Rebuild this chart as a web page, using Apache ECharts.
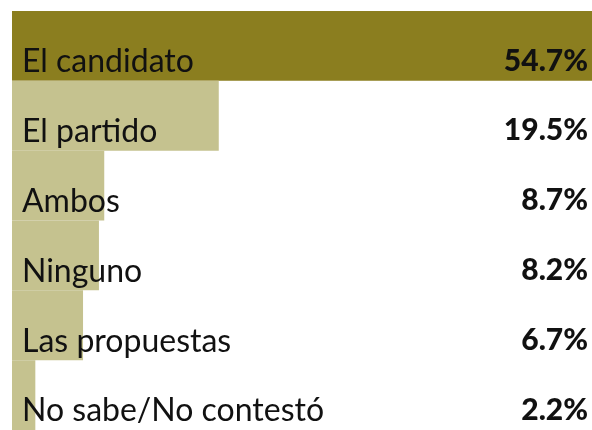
<!DOCTYPE html>
<html>
<head>
<meta charset="utf-8">
<script src="https://cdn.jsdelivr.net/npm/echarts@6/dist/echarts.min.js"></script>
<style>
  html, body { margin: 0; padding: 0; background: #fff; }
  #chart { width: 592px; height: 430px; }
</style>
</head>
<body>
<div id="chart"></div>
<script>
// respuestas y porcentajes
var categories = ['El candidato', 'El partido', 'Ambos', 'Ninguno', 'Las propuestas', 'No sabe/No contestó'];
var values = [54.7, 19.5, 8.7, 8.2, 6.7, 2.2];
var valueLabels = ['54.7%', '19.5%', '8.7%', '8.2%', '6.7%', '2.2%'];

var darkColor = '#8B7E1F';
var lightColor = '#C5C28F';

var chart = echarts.init(document.getElementById('chart'));

var option = {
  animation: false,
  grid: { left: 12, top: 11, width: 589, height: 420 },
  xAxis: {
    type: 'value',
    min: 0,
    max: 54.7,
    show: false
  },
  yAxis: [{
    type: 'category',
    data: categories,
    inverse: true,
    position: 'left',
    z: 10,
    axisLine: { show: false },
    axisTick: { show: false },
    axisLabel: {
      inside: true,
      margin: 10,
      verticalAlign: 'top',
      fontFamily: 'Lato',
      fontSize: 32,
      color: '#111'
    }
  }, {
    type: 'category',
    data: valueLabels,
    inverse: true,
    position: 'right',
    z: 10,
    axisLine: { show: false },
    axisTick: { show: false },
    axisLabel: {
      inside: true,
      margin: 4,
      verticalAlign: 'top',
      fontFamily: 'Lato',
      fontWeight: 900,
      fontSize: 30,
      color: '#111'
    }
  }],
  series: [{
    type: 'bar',
    data: values.map(function (v, i) {
      return { value: v, itemStyle: { color: i === 0 ? darkColor : lightColor } };
    }),
    barWidth: '100%',
    z: 1
  }]
};
chart.setOption(option);
</script>
</body>
</html>
